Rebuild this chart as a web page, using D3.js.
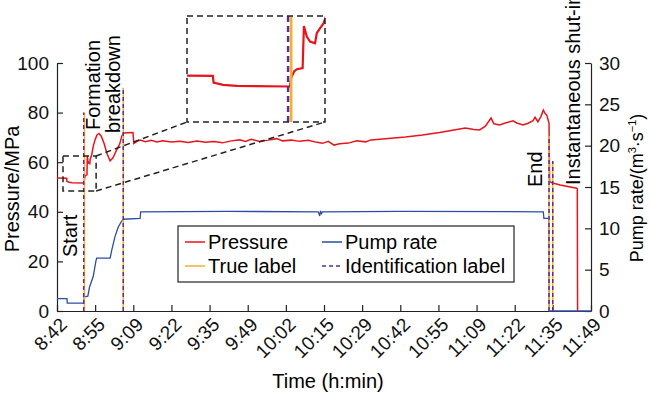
<!DOCTYPE html>
<html>
<head>
<meta charset="utf-8">
<script src="https://cdn.jsdelivr.net/npm/d3@7"></script>
<style>
  body { margin: 0; background: #fff; }
  svg { font-family: "Liberation Sans", Arial, sans-serif; }
</style>
</head>
<body>
<div id="chart"></div>
<script>
// Time is minutes after 8:42.
const tickLabels = ["8:42","8:55","9:09","9:22","9:35","9:49","10:02","10:15","10:29","10:42","10:55","11:09","11:22","11:35","11:49"];
const timeSpan = 187;

// Pressure (MPa) series
const pressureTime = [0,3.4,3.45,4.2,5.3,9.5,9.6,9.83,10.04,10.5,10.6,10.83,11.09,11.48,11.62,11.88,12.14,12.7,13.3,14,14.7,15.5,16.5,17.5,18.6,19.6,20.9,22,22.7,23.3,26.6,26.9,28,29.1,
  31,33,35,37,40,43,46,49,52,55,58,61,64,66,68,71,74,77,79,82,85,88,91,93,95,97,99,102,105,108,110,113,116,119,122,125,128,131,134,137,140,143,146,148,150,152,153,155,157,159.7,161,163.2,165,166.7,167.4,168.4,169.5,170.3,171,171.5,172.3,172.5,173.3,176.2,182,182.2,182.3];
const pressureValue = [53.6,53.5,52.3,51.9,51.7,51.6,53.2,54.3,54.7,54.9,62.5,60.6,59.7,59.4,61.2,62.1,62.9,66.5,69,71,71.6,70.5,67.5,63.5,60.5,61.8,65,67.5,70.5,71.8,72,67.6,68.4,68.9,
  68.3,68.8,68.2,68.6,68.1,68.4,67.9,68.5,68,68.3,67.8,68.6,69,68.4,69.2,68.4,68.9,69.5,68.6,68.9,68.4,68.8,68,67.6,68.4,66.9,67.4,67.7,68.6,68.2,69,69.3,69.6,69.9,70.2,70.6,71,71.5,72,72.6,73.2,73.8,73.2,73,74.5,77.8,75.5,75,75.8,76.7,75.8,75,75.7,76.7,78.1,76.3,78.5,81,79.5,79,75.7,52.2,51.7,50.8,49.5,49.3,0];

// Pump rate (m3/s) series
const pumpTime = [0,3.5,3.6,9.45,9.5,10.8,11.4,12.7,13.6,13.9,18.6,19.2,20.3,21.5,22.7,23.3,29.1,29.3,60,91.5,92,92.3,92.6,93,120,170.3,170.5,172.2,172.4,187];
const pumpValue = [1.5,1.5,0.95,0.95,1.7,1.8,2.9,4.2,6,6.4,6.4,7.4,9,10.2,10.9,11.1,11.2,12,12.05,12,11.5,12.1,11.8,12,12.05,12,11.2,11.2,0,0];

// Event labels: time and top of the marker line (MPa)
const trueLabelTime = [9.6, 23.2, 172.3, 173.6];
const idLabelTime = [9.35, 23.2, 172.3, 173.6];
const labelTop = [80, 90, 70.6, 60.5];

// Zoomed window [t0, t1, p0, p1] and the inset's view
const zoomWindow = [2.1, 13.7, 48.4, 62.5];
const insetView = [1.35, 12.27, 45.2, 64.3];

const W = 650, H = 393;
const plot = {left: 57, right: 591, top: 63, bottom: 311};
const red = "#e8141c", blue = "#2a4ea6", orange = "#f4b030", purple = "#5b2d91";

const svg = d3.select("#chart").append("svg").attr("width", W).attr("height", H);

const x = d3.scaleLinear().domain([0, timeSpan]).range([plot.left, plot.right]);
const yP = d3.scaleLinear().domain([0, 100]).range([plot.bottom, plot.top]);
const yQ = d3.scaleLinear().domain([0, 30]).range([plot.bottom, plot.top]);

const pressure = pressureTime.map((t, i) => ({t: t, v: pressureValue[i]}));
const pump = pumpTime.map((t, i) => ({t: t, v: pumpValue[i]}));

// Axes
const xAxis = svg.append("g")
    .attr("transform", `translate(0,${plot.bottom})`)
    .call(d3.axisBottom(x)
      .tickValues(tickLabels.map((d, i) => i * timeSpan / 14))
      .tickFormat((d, i) => tickLabels[i])
      .tickSize(-6).tickSizeOuter(0));
xAxis.selectAll("text")
    .attr("x", 0).attr("y", 0).attr("dy", "0.35em")
    .attr("text-anchor", "end")
    .attr("transform", "translate(6,10) rotate(-45)");

svg.append("g")
    .attr("transform", `translate(${plot.left},0)`)
    .call(d3.axisLeft(yP).tickValues([0,20,40,60,80,100]).tickSize(-6).tickSizeOuter(0).tickPadding(8));

svg.append("g")
    .attr("transform", `translate(${plot.right},0)`)
    .call(d3.axisRight(yQ).tickValues([0,5,10,15,20,25,30]).tickSize(-6).tickSizeOuter(0).tickPadding(8));

svg.selectAll(".tick text").attr("font-size", 19).attr("fill", "#111").attr("font-family", "Liberation Sans, Arial, sans-serif");
svg.selectAll(".domain, .tick line").attr("stroke", "#222").attr("stroke-width", 1.2);

// Axis titles
svg.append("text").attr("x", (plot.left + plot.right) / 2 + 4).attr("y", 388)
    .attr("text-anchor", "middle").attr("font-size", 20).text("Time (h:min)");
svg.append("text").attr("transform", `translate(19,189) rotate(-90)`)
    .attr("text-anchor", "middle").attr("font-size", 20).text("Pressure/MPa");
const rt = svg.append("text").attr("transform", `translate(643,188) rotate(-90)`)
    .attr("text-anchor", "middle").attr("font-size", 18);
rt.append("tspan").text("Pump rate/(m");
rt.append("tspan").attr("font-size", 11).attr("dy", -7).text("3");
rt.append("tspan").attr("dy", 7).text("·s");
rt.append("tspan").attr("font-size", 11).attr("dy", -7).text("−1");
rt.append("tspan").attr("dy", 7).text(")");

// Series
const lineP = d3.line().x(d => x(d.t)).y(d => yP(d.v));
const lineQ = d3.line().x(d => x(d.t)).y(d => yQ(d.v));

svg.append("path").datum(pump)
    .attr("fill", "none").attr("stroke", blue).attr("stroke-width", 1.3).attr("d", lineQ);
svg.append("path").datum(pressure)
    .attr("fill", "none").attr("stroke", red).attr("stroke-width", 1.5).attr("d", lineP);

// Event marker lines
trueLabelTime.forEach((t, i) => {
  svg.append("line").attr("x1", x(t)).attr("x2", x(t)).attr("y1", yP(0)).attr("y2", yP(labelTop[i]))
      .attr("stroke", orange).attr("stroke-width", 1.5);
});
idLabelTime.forEach((t, i) => {
  svg.append("line").attr("x1", x(t)).attr("x2", x(t)).attr("y1", yP(0)).attr("y2", yP(labelTop[i]))
      .attr("stroke", purple).attr("stroke-width", 1.5).attr("stroke-dasharray", "4,3");
});

// Event texts (read bottom to top, baseline on the right)
function vtext(bx, by, txt) {
  svg.append("text").attr("transform", `translate(${bx},${by}) rotate(-90)`)
      .attr("text-anchor", "start").attr("font-size", 20).text(txt);
}
vtext(77, 257, "Start");
vtext(100, 130, "Formation");
vtext(120, 133, "breakdown");
vtext(541.5, 187, "End");
vtext(580, 185, "Instantaneous shut-in");

// Zoom window and inset
const dash = "6,4";
const zx0 = x(zoomWindow[0]), zx1 = x(zoomWindow[1]), zy0 = yP(zoomWindow[3]), zy1 = yP(zoomWindow[2]);
const box = {left: 187, right: 325, top: 16, bottom: 122};

svg.append("rect").attr("x", zx0).attr("y", zy0).attr("width", zx1 - zx0).attr("height", zy1 - zy0)
    .attr("fill", "none").attr("stroke", "#222").attr("stroke-width", 1.5).attr("stroke-dasharray", dash);
svg.append("line").attr("x1", zx1).attr("y1", zy0).attr("x2", box.left).attr("y2", box.bottom)
    .attr("stroke", "#222").attr("stroke-width", 1.5).attr("stroke-dasharray", dash);
svg.append("line").attr("x1", zx1).attr("y1", zy1).attr("x2", box.right).attr("y2", box.bottom)
    .attr("stroke", "#222").attr("stroke-width", 1.5).attr("stroke-dasharray", dash);

const ix = d3.scaleLinear().domain([insetView[0], insetView[1]]).range([box.left, box.right]);
const iy = d3.scaleLinear().domain([insetView[2], insetView[3]]).range([box.bottom, box.top]);

svg.append("clipPath").attr("id", "insetClip").append("rect")
    .attr("x", box.left).attr("y", box.top).attr("width", box.right - box.left).attr("height", box.bottom - box.top);
const inset = svg.append("g").attr("clip-path", "url(#insetClip)");
inset.append("rect").attr("x", box.left).attr("y", box.top).attr("width", box.right - box.left).attr("height", box.bottom - box.top)
    .attr("fill", "#fff");
inset.append("path").datum(pressure)
    .attr("fill", "none").attr("stroke", red).attr("stroke-width", 2.2)
    .attr("d", d3.line().x(d => ix(d.t)).y(d => iy(d.v)));
inset.append("line").attr("x1", ix(trueLabelTime[0])).attr("x2", ix(trueLabelTime[0]))
    .attr("y1", box.top).attr("y2", box.bottom).attr("stroke", orange).attr("stroke-width", 2.5);
inset.append("line").attr("x1", ix(idLabelTime[0])).attr("x2", ix(idLabelTime[0]))
    .attr("y1", box.top).attr("y2", box.bottom).attr("stroke", purple).attr("stroke-width", 2.5).attr("stroke-dasharray", "6,4");
svg.append("rect").attr("x", box.left).attr("y", box.top).attr("width", box.right - box.left).attr("height", box.bottom - box.top)
    .attr("fill", "none").attr("stroke", "#222").attr("stroke-width", 1.5).attr("stroke-dasharray", dash);

// Legend
const legendItems = [
  {name: "Pressure", color: red, dash: null, col: 0, row: 0},
  {name: "Pump rate", color: blue, dash: null, col: 1, row: 0},
  {name: "True label", color: orange, dash: null, col: 0, row: 1},
  {name: "Identification label", color: purple, dash: "4,3", col: 1, row: 1}
];
const lg = svg.append("g");
lg.append("rect").attr("x", 178).attr("y", 226).attr("width", 336).attr("height", 56)
    .attr("fill", "#fff").attr("stroke", "#222").attr("stroke-width", 1.2);
legendItems.forEach(d => {
  const lx = d.col ? 322 : 185, ly = d.row ? 266 : 242;
  lg.append("line").attr("x1", lx).attr("x2", lx + 20).attr("y1", ly).attr("y2", ly)
      .attr("stroke", d.color).attr("stroke-width", 1.5).attr("stroke-dasharray", d.dash);
  lg.append("text").attr("x", lx + 23).attr("y", ly).attr("dominant-baseline", "central")
      .attr("font-size", 20).text(d.name);
});
</script>
</body>
</html>
